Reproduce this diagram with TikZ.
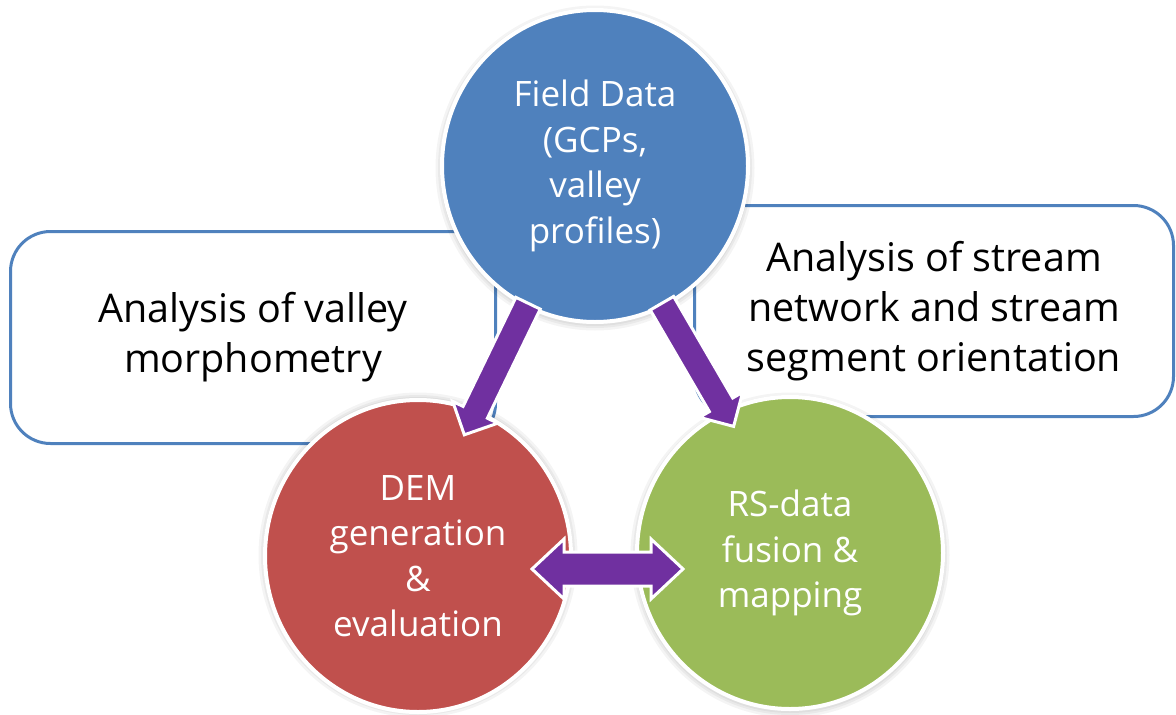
\documentclass[tikz,border=0pt]{standalone}
\usepackage{fontspec}
\setmainfont{Open Sans}
\usetikzlibrary{calc,shapes.geometric}

\definecolor{accBlue}{HTML}{4F81BD}
\definecolor{accRed}{HTML}{C0504D}
\definecolor{accGreen}{HTML}{9BBB59}
\definecolor{accPurple}{HTML}{7030A0}

% direction and length from #1 to #2, stored in \arAngle and \arLen
\newcommand\arrowgeom[2]{%
  \path let \p1=($(#2)-(#1)$) in \pgfextra{%
    \pgfmathsetmacro\tmpA{atan2(\y1,\x1)}\global\let\arAngle\tmpA
    \pgfmathsetmacro\tmpL{veclen(\x1,\y1)}\global\let\arLen\tmpL};}

% block arrow from tail #1 to tip #2
\newcommand\singleblock[2]{%
  \arrowgeom{#1}{#2}%
  \pgfmathsetmacro\arNeck{\arLen-25}%
  \draw[arrowbody, shift={(#1)}, rotate=\arAngle]
    (0pt,-13.5pt) -- (\arNeck pt,-13.5pt) -- (\arNeck pt,-25pt) -- (\arLen pt,0pt)
    -- (\arNeck pt,25pt) -- (\arNeck pt,13.5pt) -- (0pt,13.5pt) -- cycle;}

% block arrow with a head at both ends, #1 to #2
\newcommand\doubleblock[2]{%
  \arrowgeom{#1}{#2}%
  \pgfmathsetmacro\arNeck{\arLen-32}%
  \draw[arrowbody, shift={(#1)}, rotate=\arAngle]
    (0pt,0pt) -- (32pt,-30pt) -- (32pt,-17pt) -- (\arNeck pt,-17pt) -- (\arNeck pt,-30pt)
    -- (\arLen pt,0pt) -- (\arNeck pt,30pt) -- (\arNeck pt,17pt) -- (32pt,17pt)
    -- (32pt,30pt) -- cycle;}

\begin{document}
\begin{tikzpicture}[x=1pt,y=-1pt,
  infobox/.style={draw=accBlue, line width=3pt, fill=white, rounded corners=40pt,
    align=center, inner sep=0pt, font=\fontsize{39.5}{50}\selectfont},
  bubble/.style={ellipse, draw=white, line width=4pt, minimum width=306pt,
    minimum height=312pt, inner sep=0pt, align=center, text=white,
    font=\fontsize{35}{45.5}\selectfont},
  arrowbody/.style={draw=white, line width=3pt, fill=accPurple, line join=miter},
  halo/.style={fill=black, opacity=0.045}]
\useasboundingbox (0,0) rectangle (1176,715);

% side boxes
\node[infobox, minimum width=485pt, minimum height=212pt] (leftbox) at (253,337.5)
  {Analysis of valley\\morphometry};
\node[infobox, minimum width=479pt, minimum height=211pt] (rightbox) at (934,311)
  {Analysis of stream\\network and stream\\segment orientation};

% circle centres
\coordinate (cB) at (595,166);
\coordinate (cR) at (418,553);
\coordinate (cG) at (790,553);

% soft shadows under the circles
\foreach \c in {cB,cR,cG}{
  \foreach \rx/\ry in {155/158,157/160,159.5/162.5}{
    \fill[halo] ([yshift=-2pt]\c) ellipse [x radius=\rx pt, y radius=\ry pt];}}

% circles
\node[bubble, fill=accBlue] (blue) at (cB) {Field Data\\(GCPs,\\valley\\profiles)};
\node[bubble, fill=accRed] (red) at ([yshift=-3pt]cR) {DEM\\generation\\\&\\evaluation};
\node[bubble, fill=accGreen] (green) at (cG) {RS-data\\fusion \&\\mapping};

% arrow end points
\coordinate (a1t) at ($(blue.center)!0.97!(blue.244)$);
\coordinate (a1h) at ($(cR)!0.82!(red.69)$);
\coordinate (a2t) at ($(blue.center)!0.97!(blue.296)$);
\coordinate (a2h) at ($(green.center)!0.88!(green.114)$);
\coordinate (d1) at ($(cR)+(114,16)$);
\coordinate (d2) at ($(green.center)+(-107,16)$);

% arrows
\singleblock{a1t}{a1h}
\singleblock{a2t}{a2h}
\doubleblock{d1}{d2}
\end{tikzpicture}
\end{document}
